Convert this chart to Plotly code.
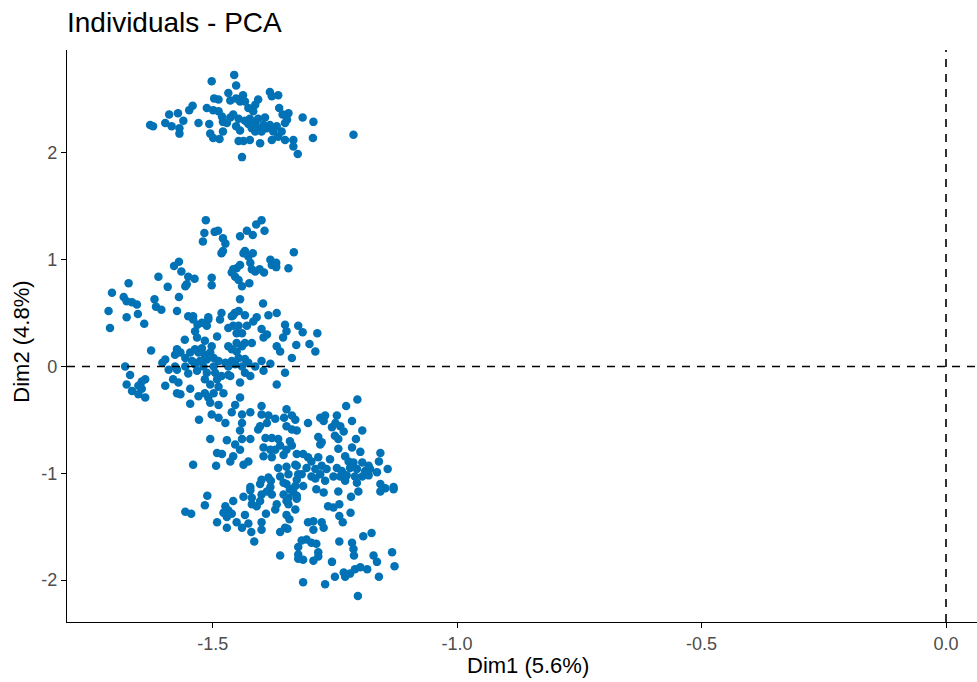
import plotly.graph_objects as go

# Coordinates of the individuals on the first two principal dimensions
upper_group = [
    (-1.628, 2.26), (-1.622, 2.25), (-1.597, 2.28), (-1.589, 2.36), (-1.584, 2.25),
    (-1.571, 2.37), (-1.568, 2.23), (-1.568, 2.18), (-1.560, 2.30), (-1.548, 2.40),
    (-1.541, 2.44), (-1.529, 2.28), (-1.507, 2.27), (-1.505, 2.18), (-1.499, 2.14),
    (-1.486, 2.13), (-1.512, 2.42), (-1.502, 2.67), (-1.497, 2.51), (-1.488, 2.50),
    (-1.499, 2.40), (-1.488, 2.39), (-1.481, 2.34), (-1.479, 2.29), (-1.471, 2.28),
    (-1.468, 2.56), (-1.456, 2.73), (-1.452, 2.63), (-1.464, 2.49), (-1.452, 2.51),
    (-1.444, 2.48), (-1.438, 2.54), (-1.434, 2.48), (-1.458, 2.36), (-1.447, 2.32),
    (-1.452, 2.25), (-1.447, 2.11), (-1.437, 2.11), (-1.440, 1.96), (-1.427, 2.42),
    (-1.424, 2.32), (-1.427, 2.27), (-1.417, 2.39), (-1.413, 2.45), (-1.407, 2.50),
    (-1.420, 2.23), (-1.413, 2.28), (-1.407, 2.32), (-1.407, 2.23), (-1.400, 2.20),
    (-1.403, 2.09), (-1.424, 2.12), (-1.396, 2.26), (-1.389, 2.23), (-1.383, 2.57),
    (-1.379, 2.53), (-1.366, 2.54), (-1.383, 2.26), (-1.376, 2.20), (-1.379, 2.12),
    (-1.369, 2.25), (-1.366, 2.15), (-1.359, 2.20), (-1.364, 2.42), (-1.357, 2.36),
    (-1.352, 2.28), (-1.345, 2.37), (-1.348, 2.31), (-1.352, 2.12), (-1.335, 2.12),
    (-1.335, 2.06), (-1.326, 1.99), (-1.316, 2.33), (-1.294, 2.29), (-1.295, 2.14),
    (-1.212, 2.17), (-1.434, 2.30), (-1.444, 2.21), (-1.413, 2.20), (-1.393, 2.33),
    (-1.464, 2.33), (-1.479, 2.20),
]

middle_group = [
    (-1.514, 1.37), (-1.517, 1.25), (-1.496, 1.26), (-1.489, 1.27), (-1.520, 1.17),
    (-1.479, 1.20), (-1.474, 1.15), (-1.482, 1.06), (-1.479, 1.08), (-1.444, 1.22),
    (-1.569, 0.98), (-1.579, 0.94), (-1.564, 0.89), (-1.611, 0.84), (-1.550, 0.84),
    (-1.537, 0.82), (-1.553, 0.77), (-1.556, 0.75), (-1.592, 0.745), (-1.502, 0.83),
    (-1.502, 0.76), (-1.672, 0.78), (-1.706, 0.69), (-1.682, 0.65), (-1.676, 0.61),
    (-1.665, 0.60), (-1.655, 0.58), (-1.619, 0.63), (-1.616, 0.56), (-1.605, 0.53),
    (-1.569, 0.65), (-1.713, 0.52), (-1.676, 0.46), (-1.653, 0.49), (-1.573, 0.52),
    (-1.461, 0.88), (-1.454, 0.84), (-1.451, 0.92), (-1.444, 0.95), (-1.447, 0.81),
    (-1.440, 0.75), (-1.444, 0.63), (-1.437, 1.06), (-1.550, 0.47), (-1.540, 0.47),
    (-1.509, 0.46), (-1.482, 0.50), (-1.455, 0.50), (-1.400, 1.37), (-1.411, 1.33),
    (-1.430, 1.27), (-1.418, 1.23), (-1.394, 1.27), (-1.434, 1.08), (-1.427, 1.03),
    (-1.418, 1.06), (-1.334, 1.07), (-1.458, 0.91), (-1.423, 0.97), (-1.420, 0.91),
    (-1.413, 0.89), (-1.404, 0.91), (-1.395, 0.88), (-1.382, 1.00), (-1.379, 0.95),
    (-1.370, 0.97), (-1.370, 0.93), (-1.345, 0.92), (-1.425, 0.78), (-1.397, 0.59),
    (-1.458, 0.48), (-1.447, 0.52), (-1.434, 0.48), (-1.410, 0.46), (-1.386, 0.48),
    (-1.369, 0.50), (-1.710, 0.36), (-1.640, 0.40), (-1.540, 0.44), (-1.531, 0.39),
    (-1.522, 0.41), (-1.509, 0.44), (-1.512, 0.38), (-1.536, 0.33), (-1.532, 0.27),
    (-1.557, 0.25), (-1.491, 0.28), (-1.485, 0.44), (-1.461, 0.47), (-1.468, 0.36),
    (-1.447, 0.38), (-1.440, 0.31), (-1.516, 0.24), (-1.502, 0.19), (-1.522, 0.17),
    (-1.468, 0.19), (-1.461, 0.16), (-1.451, 0.14), (-1.440, 0.19), (-1.626, 0.15),
    (-1.573, 0.16), (-1.577, 0.11), (-1.566, 0.13), (-1.546, 0.13), (-1.536, 0.16),
    (-1.529, 0.13), (-1.516, 0.11), (-1.505, 0.13), (-1.556, 0.08), (-1.542, 0.05),
    (-1.526, 0.05), (-1.512, 0.065), (-1.498, 0.08), (-1.597, 0.065), (-1.603, 0.035),
    (-1.488, 0.05), (-1.474, 0.035), (-1.461, 0.05), (-1.447, 0.08), (-1.679, 0.00),
    (-1.590, -0.03), (-1.577, 0.00), (-1.556, 0.00), (-1.536, 0.02), (-1.519, 0.00),
    (-1.498, 0.00), (-1.468, 0.00), (-1.454, 0.02), (-1.440, 0.00), (-1.573, -0.03),
    (-1.550, -0.065), (-1.532, -0.04), (-1.512, -0.06), (-1.495, -0.06), (-1.482, -0.09),
    (-1.468, -0.08), (-1.669, -0.08), (-1.638, -0.12), (-1.645, -0.14), (-1.676, -0.17),
    (-1.652, -0.18), (-1.581, -0.12), (-1.570, -0.15), (-1.597, -0.18), (-1.516, -0.12),
    (-1.505, -0.17), (-1.491, -0.12), (-1.444, -0.15), (-1.665, -0.23), (-1.652, -0.26),
    (-1.638, -0.29), (-1.645, -0.21), (-1.573, -0.25), (-1.566, -0.26), (-1.546, -0.21),
    (-1.529, -0.28), (-1.516, -0.25), (-1.509, -0.29), (-1.488, -0.19), (-1.478, -0.25),
    (-1.546, -0.35), (-1.505, -0.34), (-1.488, -0.36), (-1.454, -0.36), (-1.444, -0.29),
    (-1.458, 0.38), (-1.430, 0.38), (-1.417, 0.42), (-1.400, 0.35), (-1.389, 0.30),
    (-1.396, 0.27), (-1.352, 0.39), (-1.349, 0.33), (-1.356, 0.27), (-1.325, 0.38),
    (-1.316, 0.32), (-1.286, 0.31), (-1.451, 0.31), (-1.451, 0.22), (-1.434, 0.22),
    (-1.420, 0.22), (-1.369, 0.19), (-1.362, 0.14), (-1.329, 0.20), (-1.302, 0.21),
    (-1.290, 0.14), (-1.338, 0.08), (-1.434, 0.07), (-1.427, 0.035), (-1.400, 0.05),
    (-1.382, 0.025), (-1.413, 0.00), (-1.464, -0.09), (-1.423, -0.09), (-1.434, -0.06),
    (-1.396, -0.04), (-1.352, -0.06), (-1.369, -0.17), (-1.400, -0.37), (-1.349, -0.40),
    (-1.498, -0.25),
]

lower_group = [
    (-1.502, -0.45), (-1.488, -0.48), (-1.461, -0.43), (-1.528, -0.50), (-1.474, -0.53),
    (-1.440, -0.45), (-1.423, -0.43), (-1.400, -0.45), (-1.386, -0.46), (-1.440, -0.53),
    (-1.403, -0.56), (-1.389, -0.53), (-1.372, -0.49), (-1.444, -0.60), (-1.407, -0.59),
    (-1.354, -0.48), (-1.338, -0.46), (-1.331, -0.50), (-1.349, -0.56), (-1.338, -0.59),
    (-1.328, -0.60), (-1.505, -0.68), (-1.471, -0.69), (-1.440, -0.68), (-1.423, -0.68),
    (-1.392, -0.67), (-1.379, -0.67), (-1.366, -0.68), (-1.342, -0.70), (-1.454, -0.73),
    (-1.444, -0.78), (-1.396, -0.76), (-1.382, -0.78), (-1.372, -0.78), (-1.362, -0.74),
    (-1.349, -0.78), (-1.338, -0.74), (-1.491, -0.81), (-1.481, -0.82), (-1.458, -0.84),
    (-1.464, -0.89), (-1.396, -0.84), (-1.379, -0.85), (-1.355, -0.83), (-1.328, -0.82),
    (-1.540, -0.92), (-1.493, -0.93), (-1.437, -0.92), (-1.427, -0.89), (-1.366, -0.95),
    (-1.349, -0.94), (-1.331, -0.92), (-1.362, -1.03), (-1.345, -1.01), (-1.325, -1.01),
    (-1.400, -1.06), (-1.386, -1.04), (-1.423, -1.13), (-1.403, -1.10), (-1.382, -1.13),
    (-1.349, -1.10), (-1.331, -1.12), (-1.204, -0.31), (-1.227, -0.37), (-1.305, -0.53),
    (-1.280, -0.48), (-1.270, -0.46), (-1.273, -0.51), (-1.246, -0.46), (-1.249, -0.53),
    (-1.256, -0.57), (-1.239, -0.56), (-1.232, -0.61), (-1.215, -0.51), (-1.194, -0.60),
    (-1.284, -0.66), (-1.277, -0.71), (-1.280, -0.73), (-1.250, -0.65), (-1.243, -0.68),
    (-1.207, -0.68), (-1.243, -0.77), (-1.215, -0.76), (-1.198, -0.80), (-1.157, -0.81),
    (-1.315, -0.82), (-1.305, -0.85), (-1.328, -0.93), (-1.298, -0.89), (-1.284, -0.85),
    (-1.260, -0.87), (-1.229, -0.84), (-1.222, -0.89), (-1.212, -0.90), (-1.194, -0.90),
    (-1.181, -0.93), (-1.160, -0.89), (-1.308, -0.95), (-1.290, -0.96), (-1.277, -0.93),
    (-1.267, -0.96), (-1.246, -0.95), (-1.236, -0.98), (-1.219, -0.95), (-1.205, -0.96),
    (-1.188, -0.98), (-1.178, -0.96), (-1.164, -0.99), (-1.142, -0.96), (-1.318, -1.01),
    (-1.298, -1.03), (-1.280, -1.01), (-1.253, -1.03), (-1.239, -1.03), (-1.226, -1.02),
    (-1.209, -1.03), (-1.194, -1.03), (-1.181, -1.02), (-1.328, -1.06), (-1.290, -1.05),
    (-1.270, -1.07), (-1.229, -1.07), (-1.205, -1.09), (-1.157, -1.10), (-1.147, -1.14),
    (-1.130, -1.13), (-1.342, -1.15), (-1.315, -1.12), (-1.288, -1.15), (-1.273, -1.18),
    (-1.243, -1.17), (-1.202, -1.17), (-1.328, -1.21), (-1.217, -1.22), (-1.381, -1.07),
    (-1.355, -1.09), (-1.511, -1.21), (-1.516, -1.30), (-1.437, -1.22), (-1.423, -1.16),
    (-1.420, -1.23), (-1.400, -1.20), (-1.389, -1.17), (-1.379, -1.20), (-1.355, -1.20),
    (-1.345, -1.23), (-1.335, -1.18), (-1.328, -1.24), (-1.420, -1.29), (-1.410, -1.31),
    (-1.403, -1.26), (-1.369, -1.29), (-1.372, -1.34), (-1.345, -1.29), (-1.331, -1.34),
    (-1.556, -1.36), (-1.544, -1.38), (-1.474, -1.31), (-1.458, -1.26), (-1.478, -1.37),
    (-1.468, -1.35), (-1.461, -1.38), (-1.471, -1.41), (-1.434, -1.39), (-1.391, -1.38),
    (-1.349, -1.39), (-1.343, -1.43), (-1.491, -1.46), (-1.451, -1.46), (-1.440, -1.51),
    (-1.471, -1.51), (-1.427, -1.47), (-1.400, -1.46), (-1.400, -1.53), (-1.421, -1.55),
    (-1.415, -1.64), (-1.352, -1.51), (-1.362, -1.55), (-1.347, -1.52), (-1.362, -1.77),
    (-1.325, -1.69), (-1.325, -1.80), (-1.349, -1.26), (-1.157, -1.17), (-1.130, -1.15),
    (-1.264, -1.31), (-1.253, -1.32), (-1.241, -1.29), (-1.241, -1.40), (-1.234, -1.46),
    (-1.218, -1.37), (-1.305, -1.46), (-1.294, -1.45), (-1.277, -1.46), (-1.294, -1.53),
    (-1.273, -1.51), (-1.192, -1.59), (-1.175, -1.56), (-1.241, -1.64), (-1.215, -1.65),
    (-1.318, -1.63), (-1.308, -1.62), (-1.298, -1.65), (-1.288, -1.66), (-1.325, -1.76),
    (-1.315, -1.81), (-1.284, -1.74), (-1.284, -1.78), (-1.294, -1.82), (-1.212, -1.71),
    (-1.211, -1.77), (-1.171, -1.77), (-1.164, -1.83), (-1.133, -1.74), (-1.128, -1.87),
    (-1.256, -1.83), (-1.232, -1.93), (-1.229, -1.97), (-1.219, -1.94), (-1.209, -1.90),
    (-1.198, -1.88), (-1.184, -1.90), (-1.250, -1.97), (-1.160, -1.97), (-1.315, -2.02),
    (-1.270, -2.04), (-1.203, -2.15),
]

x_ticks = [-1.5, -1.0, -0.5, 0.0]
x_tick_labels = ["-1.5", "-1.0", "-0.5", "0.0"]
y_ticks = [-2, -1, 0, 1, 2]
y_tick_labels = ["-2", "-1", "0", "1", "2"]

individuals = upper_group + middle_group + lower_group
dim1 = [p[0] for p in individuals]
dim2 = [p[1] for p in individuals]

POINT_COLOR = "#0072B5"
FONT = "Liberation Sans, Arial, sans-serif"

fig = go.Figure()
fig.add_trace(go.Scatter(
    x=dim1, y=dim2, mode="markers",
    marker=dict(size=8.5, color=POINT_COLOR, line=dict(width=0)),
    hoverinfo="x+y", showlegend=False,
))

# Reference lines through the origin
dash_style = dict(color="black", width=1.6, dash="8px,7px")
fig.add_shape(type="line", xref="paper", yref="y", x0=0, x1=1, y0=0, y1=0,
              line=dash_style, layer="above")
fig.add_shape(type="line", xref="x", yref="paper", x0=0, x1=0, y0=0, y1=1,
              line=dash_style, layer="above")

axis_common = dict(
    showgrid=False, zeroline=False, showline=True, linecolor="black", linewidth=1.3,
    ticks="outside", ticklen=5, tickwidth=1.3, tickcolor="black",
    tickfont=dict(family=FONT, size=18, color="#4D4D4D"),
)

fig.update_layout(
    width=977, height=682,
    margin=dict(l=67, r=0, t=50, b=60),
    plot_bgcolor="white", paper_bgcolor="white",
    font=dict(family=FONT, color="black"),
    title=dict(text="Individuals - PCA", font=dict(family=FONT, size=28, color="black"),
               x=0, xref="paper", xanchor="left",
               y=1 - 22 / 682, yref="container", yanchor="middle"),
    xaxis=dict(range=[-1.798, 0.0634], tickvals=x_ticks, ticktext=x_tick_labels,
               **axis_common),
    yaxis=dict(range=[-2.393, 2.963], tickvals=y_ticks, ticktext=y_tick_labels,
               **axis_common),
    annotations=[
        dict(text="Dim1 (5.6%)", xref="paper", yref="paper", x=0.507, y=0,
             xanchor="center", yanchor="middle", yshift=-43, showarrow=False,
             font=dict(family=FONT, size=22, color="black")),
        dict(text="Dim2 (4.8%)", xref="paper", yref="paper", x=0, y=0.49,
             xanchor="center", yanchor="middle", xshift=-45, textangle=-90,
             showarrow=False, font=dict(family=FONT, size=22, color="black")),
    ],
)

fig.write_html("out.html")
